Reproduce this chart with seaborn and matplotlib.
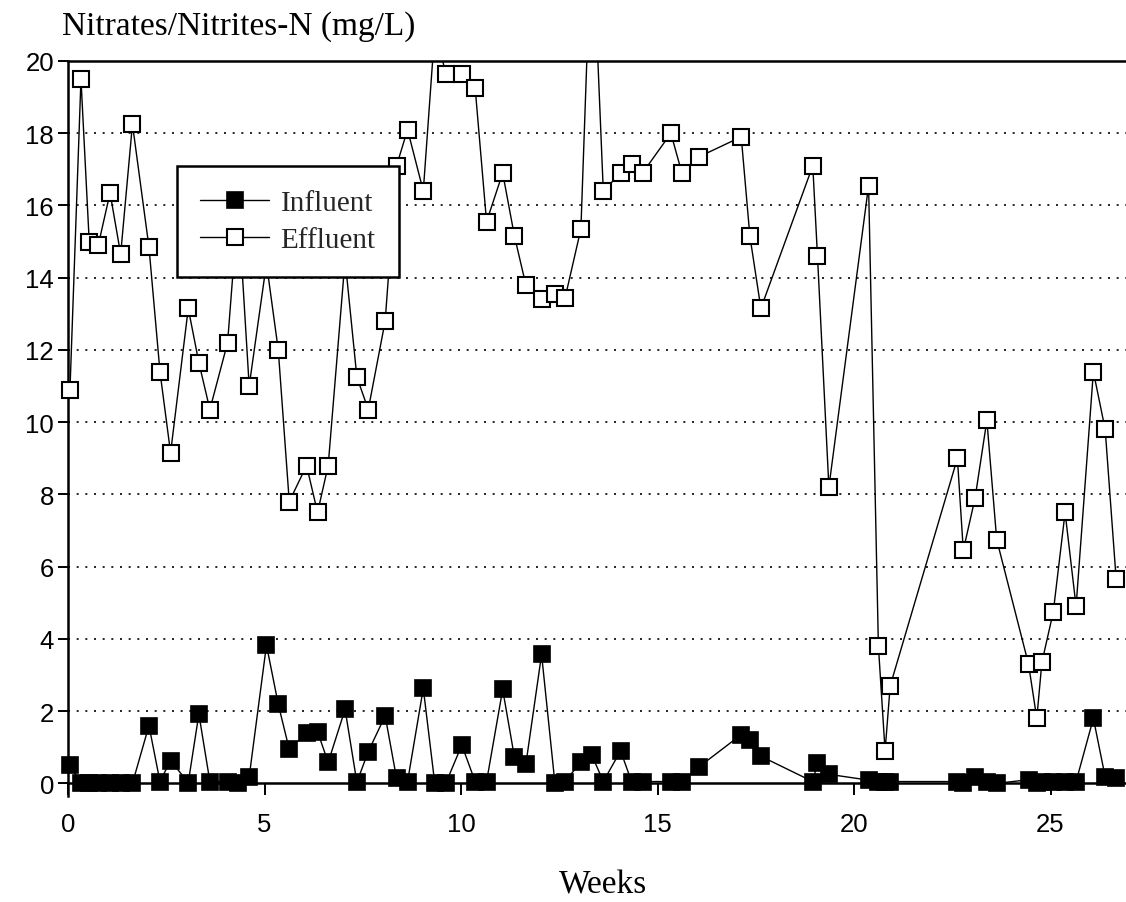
import matplotlib
matplotlib.use("Agg")
import matplotlib.pyplot as plt
from matplotlib.patches import Rectangle
import seaborn as sns
import pandas as pd

weeks = [0.05, 0.33, 0.54, 0.77, 1.07, 1.34, 1.64, 2.06, 2.34, 2.61,
         3.06, 3.33, 3.61, 4.06, 4.33, 4.61, 5.05, 5.35, 5.63, 6.07,
         6.35, 6.62, 7.05, 7.35, 7.64, 8.07, 8.36, 8.64, 9.04, 9.33,
         9.62, 10.02, 10.36, 10.65, 11.06, 11.36, 11.65, 12.05, 12.39, 12.65,
         13.05, 13.33, 13.62, 14.06, 14.34, 14.62, 15.34, 15.62, 16.06, 17.13,
         17.35, 17.63, 18.95, 19.07, 19.36, 20.37, 20.62, 20.79, 20.92, 22.63,
         22.78, 23.08, 23.38, 23.63, 24.44, 24.65, 24.78, 25.07, 25.37, 25.65,
         26.09, 26.39, 26.67]

effluent = [10.9, 19.5, 15.0, 14.9, 16.35, 14.65, 18.25, 14.85, 11.4, 9.15,
            13.15, 11.65, 10.35, 12.2, 16.0, 11.0, 14.4, 12.0, 7.8, 8.8,
            7.5, 8.8, 14.5, 11.25, 10.35, 12.8, 17.1, 18.1, 16.4, 20.8,
            19.65, 19.65, 19.25, 15.55, 16.9, 15.15, 13.8, 13.4, 13.55, 13.45,
            15.35, 24.0, 16.4, 16.9, 17.15, 16.9, 18.0, 16.9, 17.35, 17.9,
            15.15, 13.15, 17.1, 14.6, 8.2, 16.55, 3.8, 0.9, 2.7, 9.0,
            6.45, 7.9, 10.05, 6.75, 3.3, 1.8, 3.35, 4.75, 7.5, 4.9,
            11.4, 9.8, 5.65]

influent = [0.5, 0.0, 0.0, 0.0, 0.0, 0.0, 0.0, 1.6, 0.05, 0.63,
            0.02, 1.92, 0.05, 0.05, 0.0, 0.18, 3.83, 2.19, 0.94, 1.4,
            1.43, 0.58, 2.05, 0.03, 0.88, 1.87, 0.14, 0.05, 2.63, 0.02,
            0.02, 1.06, 0.05, 0.05, 2.6, 0.72, 0.53, 3.57, 0.0, 0.05,
            0.6, 0.78, 0.05, 0.9, 0.05, 0.05, 0.05, 0.05, 0.46, 1.35,
            1.2, 0.75, 0.05, 0.57, 0.25, 0.09, 0.05, 0.05, 0.05, 0.05,
            0.0, 0.18, 0.05, 0.0, 0.1, 0.0, 0.05, 0.05, 0.05, 0.05,
            1.8, 0.18, 0.14]

x_ticks = [0, 5, 10, 15, 20, 25]
y_ticks = [0, 2, 4, 6, 8, 10, 12, 14, 16, 18, 20]
series_names = ["Influent", "Effluent"]
title_text = "Nitrates/Nitrites-N (mg/L)"
x_label = "Weeks"

sns.set_style("white")
plt.rcParams["font.family"] = ["Liberation Sans", "DejaVu Sans"]

fig = plt.figure(figsize=(11.26, 9.03), dpi=100)
ax = fig.add_axes([68 / 1126, 1 - 797 / 903, 1 - 68 / 1126, (797 - 62) / 903])

df = pd.DataFrame({"week": weeks, "Influent": influent, "Effluent": effluent})

sns.lineplot(data=df, x="week", y="Influent", ax=ax, color="black", lw=1.0,
             marker="s", markersize=11, markerfacecolor="black",
             markeredgecolor="black", markeredgewidth=1.2,
             label=series_names[0], estimator=None, sort=False, zorder=3)
sns.lineplot(data=df, x="week", y="Effluent", ax=ax, color="black", lw=1.0,
             marker="s", markersize=12, markerfacecolor="white",
             markeredgecolor="black", markeredgewidth=1.5,
             label=series_names[1], estimator=None, sort=False, zorder=4)

# clip only at the top (values above 20 are cut off), let edge markers show
clip_rect = Rectangle((-0.05, -0.1), 1.1, 1.1, transform=ax.transAxes,
                      facecolor="none", edgecolor="none")
for ln in ax.lines:
    ln.set_clip_path(clip_rect)

ax.set_xlim(0, 26.92)
ax.set_ylim(-0.35, 20)
ax.set_xticks(x_ticks)
ax.set_yticks(y_ticks)

for v in y_ticks[1:-1]:
    ax.axhline(v, color="black", lw=1.2, linestyle=(0, (1.2, 4.0)), zorder=1)

ax.spines["right"].set_visible(False)
ax.spines["top"].set_linewidth(1.8)
ax.spines["left"].set_linewidth(1.8)
ax.spines["bottom"].set_linewidth(1.8)
ax.spines["bottom"].set_position(("data", 0))
for s in ax.spines.values():
    s.set_color("black")

ax.tick_params(axis="y", direction="out", length=7, width=1.4, pad=3,
               labelsize=18.5, colors="black", left=True)
ax.tick_params(axis="x", direction="out", length=8.5, width=1.4, pad=12,
               labelsize=18.5, colors="black", bottom=True)
ax.set_xlabel("")
ax.set_ylabel("")

leg = ax.legend(loc="upper left", bbox_to_anchor=(109 / 1058, 630 / 735),
                borderaxespad=0, fancybox=False, framealpha=1,
                edgecolor="black", handlelength=2.35, handletextpad=0.4,
                borderpad=0.8, labelspacing=0.38,
                prop={"family": "Liberation Serif", "size": 21})
leg.get_frame().set_linewidth(1.8)
leg.set_zorder(10)

fig.text(62 / 1126, 1 - 27 / 903, title_text, family="Liberation Serif",
         fontsize=24, ha="left", va="center", color="black")
fig.text(603 / 1126, 1 - 885 / 903, x_label, family="Liberation Serif",
         fontsize=24, ha="center", va="center", color="black")

fig.savefig("out.png", dpi=100)
